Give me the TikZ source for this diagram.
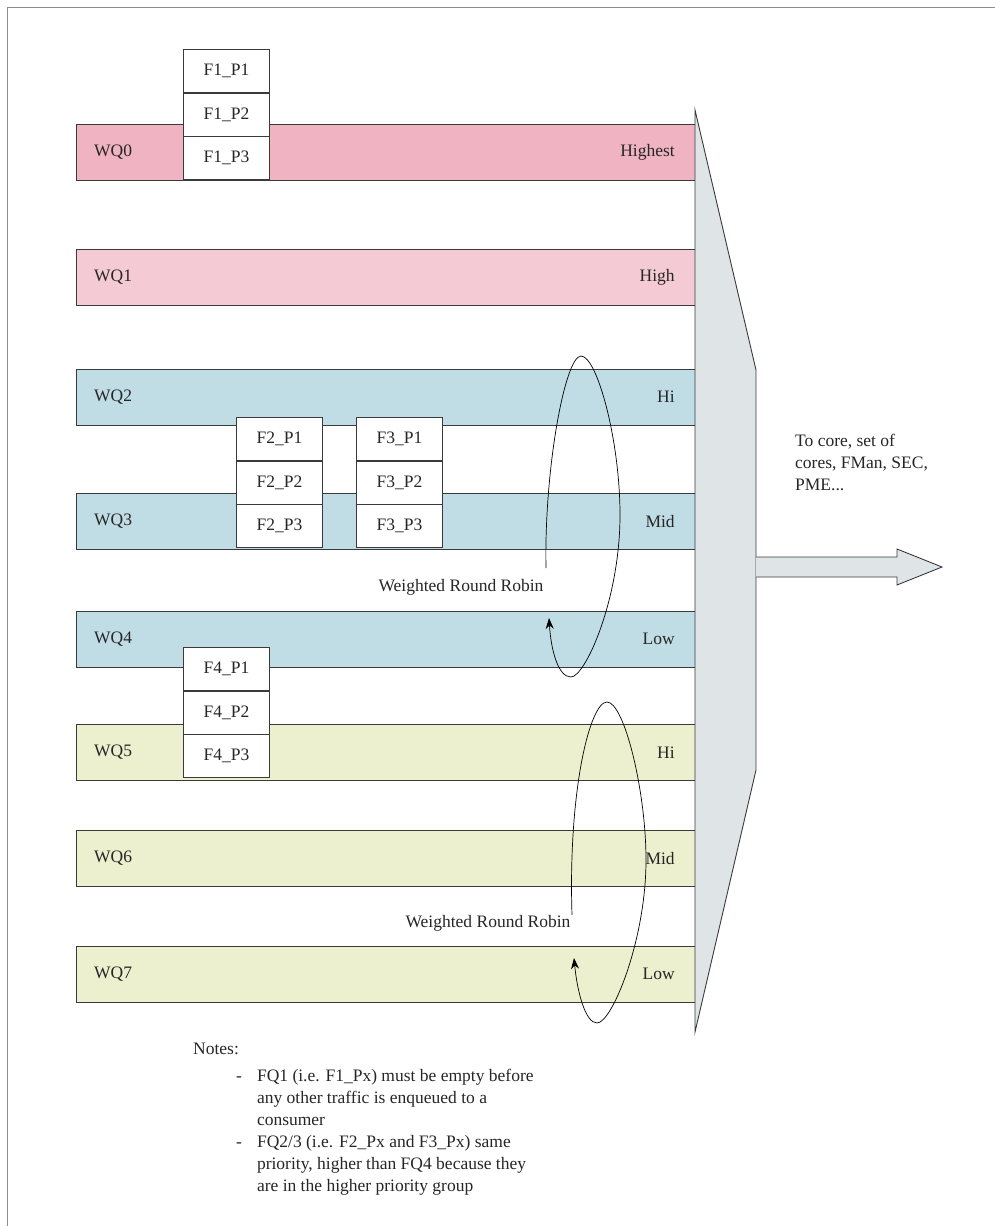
\documentclass[tikz,border=0pt]{standalone}
\usepackage{fontspec}
\setmainfont{Liberation Serif}
\usetikzlibrary{arrows.meta,positioning}
\definecolor{wqred}{HTML}{F0B3C2}
\definecolor{wqpink}{HTML}{F4CBD5}
\definecolor{wqblue}{HTML}{C0DDE5}
\definecolor{wqgreen}{HTML}{EDF0CE}
\definecolor{muxgray}{HTML}{DFE4E7}
\definecolor{edge}{HTML}{3A3A3A}
\definecolor{framegray}{HTML}{8C8C8C}

\begin{document}
\begin{tikzpicture}[x=1pt, y=-1pt, >={Stealth[length=11pt,width=8pt]}, font=\fontsize{17.5}{22}\selectfont, text=black!85,
	wq/.style={draw=edge, line width=0.9pt, minimum width=619pt, minimum height=55.5pt, anchor=north west, inner sep=0pt},
	fq/.style={draw=edge, fill=white, line width=0.9pt, minimum width=86pt, minimum height=42.7pt, inner sep=0pt},
	tag/.style={inner sep=0pt}]
		\useasboundingbox (0,0) rectangle (995,1226);
		\draw[framegray, line width=1.3pt] (7.5,1226) -- (7.5,7.5) -- (995,7.5);
		% work queues
		\foreach \n/\y/\c/\p in {0/124/wqred/Highest, 1/249/wqpink/High, 2/369/wqblue/Hi, 3/493/wqblue/Mid,
			4/611/wqblue/Low, 5/724/wqgreen/Hi, 6/830/wqgreen/Mid, 7/946/wqgreen/Low}{
			\node[wq, fill=\c] (wq\n) at (76,\y) {};
			\node[tag, anchor=west] (wq\n-name) at ([xshift=18pt]wq\n.west) {WQ\n};
			\node[tag, anchor=east] (wq\n-prio) at ([xshift=-21pt]wq\n.east) {\p};
		}
		% frame queues, stacked
		\foreach \n/\x/\y in {1/183/180, 2/236/548, 3/356/548, 4/183/778}{
			\node[fq, anchor=south west] (f\n-p3) at (\x,\y) {F\n\_P3};
			\node[fq, above=0pt of f\n-p3] (f\n-p2) {F\n\_P2};
			\node[fq, above=0pt of f\n-p2] (f\n-p1) {F\n\_P1};
		}
		% scheduler and output
		\draw[edge, fill=muxgray, line width=0.9pt] (695,110) -- (756,370) -- (756,770) -- (695,1032) -- cycle;
		\draw[edge, fill=muxgray, line width=0.9pt] (756,557) -- (897,557) -- (897,549) -- (942,567) -- (897,585) -- (897,577) -- (756,577);
		\node[tag, anchor=west, align=left] (dest) at (795,462) {To core, set of\\cores, FMan, SEC,\\PME...};
		% round robin loops
		\draw[->, line width=0.7pt] (546,568) .. controls (544,470) and (565,356) .. (581,356)
			.. controls (597,356) and (620,440) .. (620,515)
			.. controls (620,600) and (585,677) .. (571,677)
			.. controls (558,677) and (551,650) .. (549,618);
		\node[tag] (wrr1) at (461,587) {Weighted Round Robin};
		\draw[->, line width=0.7pt] (572,915) .. controls (568,790) and (590,702) .. (607,702)
			.. controls (624,702) and (646,790) .. (646,860)
			.. controls (646,940) and (612,1023) .. (597,1023)
			.. controls (585,1023) and (577,990) .. (574,958);
		\node[tag] (wrr2) at (488,923) {Weighted Round Robin};
		% notes
		\node[tag, anchor=west] (notes) at (193,1049) {Notes:};
		\node[tag, anchor=base west] (notes-list) at (236,1081) {\begin{tabular}[t]{@{}l@{\hspace{15pt}}l@{}}
			- & FQ1 (i.e. F1\_Px) must be empty before\\
			  & any other traffic is enqueued to a\\
			  & consumer\\
			- & FQ2/3 (i.e. F2\_Px and F3\_Px) same\\
			  & priority, higher than FQ4 because they\\
			  & are in the higher priority group
		\end{tabular}};
	\end{tikzpicture}
\end{document}
